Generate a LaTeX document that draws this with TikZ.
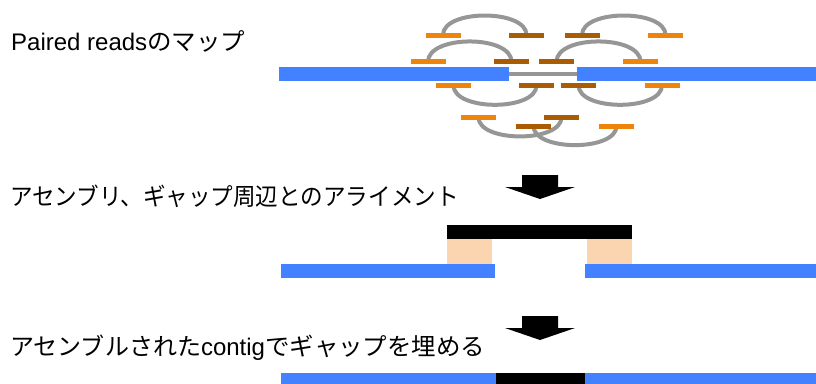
\documentclass[tikz,border=0pt]{standalone}
\usepackage{fontspec}
\setmainfont{Liberation Sans}
\newfontfamily\cjk{Noto Sans CJK JP}
\usetikzlibrary{backgrounds}
\definecolor{barblue}{RGB}{66,129,255}
\definecolor{readorange}{RGB}{238,132,10}
\definecolor{readbrown}{RGB}{170,92,4}
\definecolor{arcgray}{RGB}{150,150,150}
\definecolor{peach}{RGB}{251,213,176}
\begin{document}
\begin{tikzpicture}[x=1bp,y=-1bp,
  box/.style={inner sep=0pt, outer sep=0pt, draw=none, anchor=north west},
  bluebar/.style={box, fill=barblue, minimum height=14bp},
  blackbar/.style={box, fill=black, minimum height=14bp},
  peachbox/.style={box, fill=peach, minimum width=45bp, minimum height=25bp},
  read/.style={inner sep=0pt, outer sep=0pt, draw=none, minimum width=35bp, minimum height=5bp},
  lread/.style={read, fill=readorange},
  dread/.style={read, fill=readbrown},
  pairarc/.style={draw=arcgray, line width=4bp},
  label/.style={anchor=base west, inner sep=0pt, font=\fontsize{24bp}{28bp}\selectfont},
  bigarrow/.style={fill=black}
]
\useasboundingbox (0,0) rectangle (816,383);

% labels
\node[label] (t1) at (11,50) {Paired reads{\cjk\scalebox{1.02}[1]{のマップ}}};
\node[label] (t2) at (10,205) {\scalebox{0.94}[1]{\cjk アセンブリ、ギャップ周辺とのアライメント}};
\node[label] (t3) at (10,355) {{\cjk アセンブルされた}contig{\cjk \scalebox{1.02}[1]{でギャップを埋める}}};

% top: scaffold with gap
\node[bluebar, minimum width=230bp] (tl) at (279,67) {};
\node[bluebar, minimum width=239bp] (tr) at (577,67) {};
\draw[line width=4bp, arcgray] (tl.east) -- (tr.west);

% reads
\node[lread] (r1a) at (443,35) {};
\node[dread] (r1b) at (526.5,35) {};
\node[dread] (r1c) at (582,35) {};
\node[lread] (r1d) at (665.5,35) {};
\node[lread] (r2a) at (428,61.7) {};
\node[dread] (r2b) at (511.5,61.7) {};
\node[dread] (r2c) at (556.5,61.7) {};
\node[lread] (r2d) at (640.5,61.7) {};
\node[lread] (r3a) at (453.5,85.3) {};
\node[dread] (r3b) at (536.5,85.3) {};
\node[dread] (r3c) at (578.5,85.3) {};
\node[lread] (r3d) at (662,85.3) {};
\node[lread] (r4a) at (478.5,117.3) {};
\node[dread] (r4b) at (561.5,117.3) {};
\node[dread] (r5a) at (533.5,126) {};
\node[lread] (r5b) at (616.5,126) {};

\begin{scope}[on background layer]
  \draw[pairarc] (r1a.center) .. controls +(0,-26) and +(0,-26) .. (r1b.center);
  \draw[pairarc] (r1c.center) .. controls +(0,-26) and +(0,-26) .. (r1d.center);
  \draw[pairarc] (r2a.center) .. controls +(0,-27) and +(0,-27) .. (r2b.center);
  \draw[pairarc] (r2c.center) .. controls +(0,-27) and +(0,-27) .. (r2d.center);
  \draw[pairarc] (r3a.center) .. controls +(0,26) and +(0,26) .. (r3b.center);
  \draw[pairarc] (r3c.center) .. controls +(0,26) and +(0,26) .. (r3d.center);
  \draw[pairarc] (r4a.center) .. controls +(0,25.5) and +(0,25.5) .. (r4b.center);
  \draw[pairarc] (r5a.center) .. controls +(0,25.5) and +(0,25.5) .. (r5b.center);
\end{scope}

% arrow 1
\fill[bigarrow] (522,175) -- (558,175) -- (558,187) -- (575,187) -- (540,199) -- (505,187) -- (522,187) -- cycle;

% middle: assembled contig aligned to gap ends
\node[blackbar, minimum width=185bp] (mc) at (447,225) {};
\node[peachbox] (pl) at (447,239) {};
\node[peachbox] (pr) at (587,239) {};
\node[bluebar, minimum width=214bp] (ml) at (281,264) {};
\node[bluebar, minimum width=231bp] (mr) at (585,264) {};

% arrow 2
\fill[bigarrow] (522,316) -- (558,316) -- (558,328) -- (575,328) -- (540,340) -- (505,328) -- (522,328) -- cycle;

% bottom: gap filled
\node[bluebar, minimum width=215bp] (bl) at (281,373) {};
\node[blackbar, minimum width=89bp] (bc) at (496,373) {};
\node[bluebar, minimum width=231bp] (br) at (585,373) {};
\end{tikzpicture}
\end{document}
